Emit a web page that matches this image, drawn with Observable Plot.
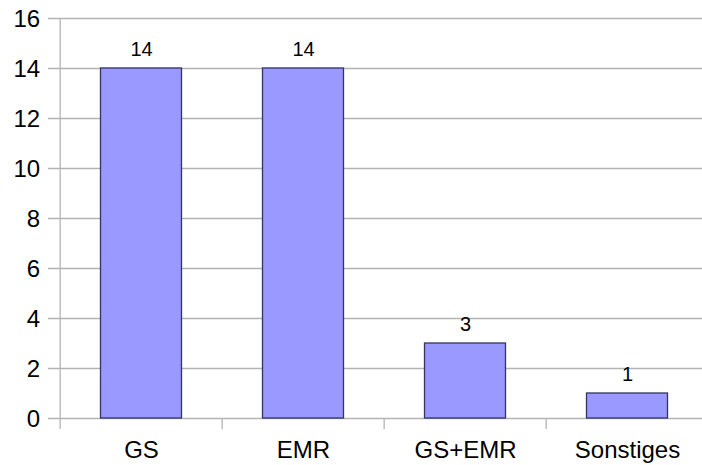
<!DOCTYPE html>
<html>
<head>
<meta charset="utf-8">
<script src="https://cdn.jsdelivr.net/npm/d3@7"></script>
<script src="https://cdn.jsdelivr.net/npm/@observablehq/plot@0.6"></script>
<style>
  html, body { margin: 0; padding: 0; background: #fff; overflow: hidden; }
  #chart svg { display: block; }
</style>
</head>
<body>
<div id="chart"></div>
<script>
// Anzahl je Kategorie
const categories = ["GS", "EMR", "GS+EMR", "Sonstiges"];
const counts = [14, 14, 3, 1];
const yTicks = [0, 2, 4, 6, 8, 10, 12, 14, 16];

const data = categories.map((c, i) => ({category: c, count: counts[i]}));

const left = 59;
const step = 162.7;
const right = left + step * categories.length;
const grid = "#b3b3b3";

const chart = Plot.plot({
  width: 702,
  height: 465,
  marginLeft: left,
  marginRight: 0,
  marginTop: 18,
  marginBottom: 47,
  style: {fontFamily: "'Liberation Sans', Arial, sans-serif", background: "#fff", overflow: "hidden"},
  x: {domain: categories, range: [left, right], padding: 0, axis: null},
  y: {domain: [0, 16], ticks: yTicks, axis: null},
  marks: [
    // horizontal grid lines with short ticks left of the axis
    Plot.ruleY(yTicks, {stroke: grid, strokeWidth: 1.3, insetLeft: -11}),
    // vertical axis line
    Plot.ruleX([categories[0]], {y1: 16, y2: 0, dx: -step / 2, stroke: grid, strokeWidth: 1.3, insetBottom: -11}),
    // category boundary ticks below the baseline
    Plot.ruleX(categories.slice(1), {y1: 0, y2: 0, dx: -step / 2, stroke: grid, strokeWidth: 1.3, insetBottom: -11}),
    Plot.barY(data, {
      x: "category", y: "count",
      fill: "#9999ff", stroke: "#333366", strokeWidth: 1.3,
      insetLeft: 40.5, insetRight: 40.5
    }),
    Plot.text(data, {x: "category", y: "count", text: d => String(d.count), dy: -19, fontSize: 20, fill: "#000"}),
    // y tick labels
    Plot.text(yTicks, {x: () => categories[0], y: d => d, text: d => String(d), dx: -step / 2 - 20, dy: 1, textAnchor: "end", fontSize: 24, fill: "#000"}),
    // category labels
    Plot.text(data, {x: "category", y: 0, text: "category", dy: 32, fontSize: 24, fill: "#000"})
  ]
});

document.getElementById("chart").append(chart);
</script>
</body>
</html>
